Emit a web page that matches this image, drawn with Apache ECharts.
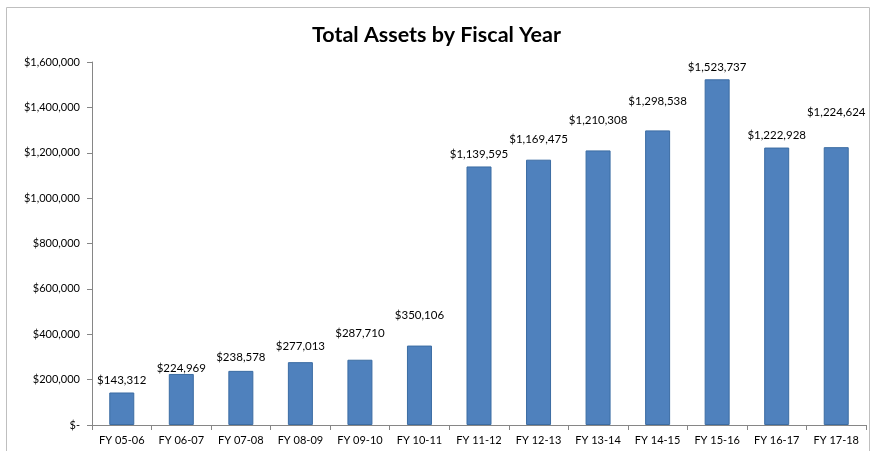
<!DOCTYPE html>
<html><head><meta charset="utf-8">
<script src="https://cdn.jsdelivr.net/npm/echarts@6/dist/echarts.min.js"></script>
<style>html,body{margin:0;padding:0;background:#fff}#c{width:873px;height:451px}</style>
</head><body><div id="c"></div>
<script>
const categories = ['FY 05-06','FY 06-07','FY 07-08','FY 08-09','FY 09-10','FY 10-11','FY 11-12','FY 12-13','FY 13-14','FY 14-15','FY 15-16','FY 16-17','FY 17-18'];
const totalAssets = [143312,224969,238578,277013,287710,350106,1139595,1169475,1210308,1298538,1523737,1222928,1224624];
const chartTitle = 'Total Assets by Fiscal Year';
const yMin = 0, yMax = 1600000, yStep = 200000;

// layout only: how far each data label sits above its bar (px), as placed in the reference
const labelGap = [6,0,8,10,20,24,6,14,24,23,6,6,29];

function money(v){ return v === 0 ? '$-' : '$' + v.toLocaleString('en-US'); }
const font = 'Lato, "Open Sans", sans-serif';
const chart = echarts.init(document.getElementById('c'));
chart.setOption({
  animation:false,
  title:{text:chartTitle,left:'center',top:19,textStyle:{fontFamily:font,fontSize:21.5,fontWeight:'bold',color:'#000'}},
  graphic:[{type:'rect',shape:{x:6.5,y:7.5,width:863,height:460},style:{fill:'none',stroke:'#bfbfbf',lineWidth:1},silent:true}],
  grid:{left:92,right:7,top:62,bottom:26,containLabel:false},
  xAxis:{type:'category',data:categories,
    axisLine:{lineStyle:{color:'#868686'}},
    axisTick:{show:true,alignWithLabel:false,length:5,lineStyle:{color:'#868686'}},
    axisLabel:{fontFamily:font,fontSize:11,color:'#000',margin:10}},
  yAxis:{type:'value',min:yMin,max:yMax,interval:yStep,
    splitLine:{show:false},
    axisLine:{show:true,lineStyle:{color:'#868686'}},
    axisTick:{show:true,length:5,lineStyle:{color:'#868686'}},
    axisLabel:{fontFamily:font,fontSize:11,color:'#000',margin:12,formatter:money}},
  series:[{type:'bar',barWidth:25,
    data:totalAssets.map((v,i)=>({value:v,label:{distance:labelGap[i]}})),
    itemStyle:{color:'#4F81BD',borderColor:'#3B6CA3',borderWidth:1},
    label:{show:true,position:'top',fontFamily:font,fontSize:11.5,color:'#000',formatter:p=>money(p.value)}}]
});
</script></body></html>
